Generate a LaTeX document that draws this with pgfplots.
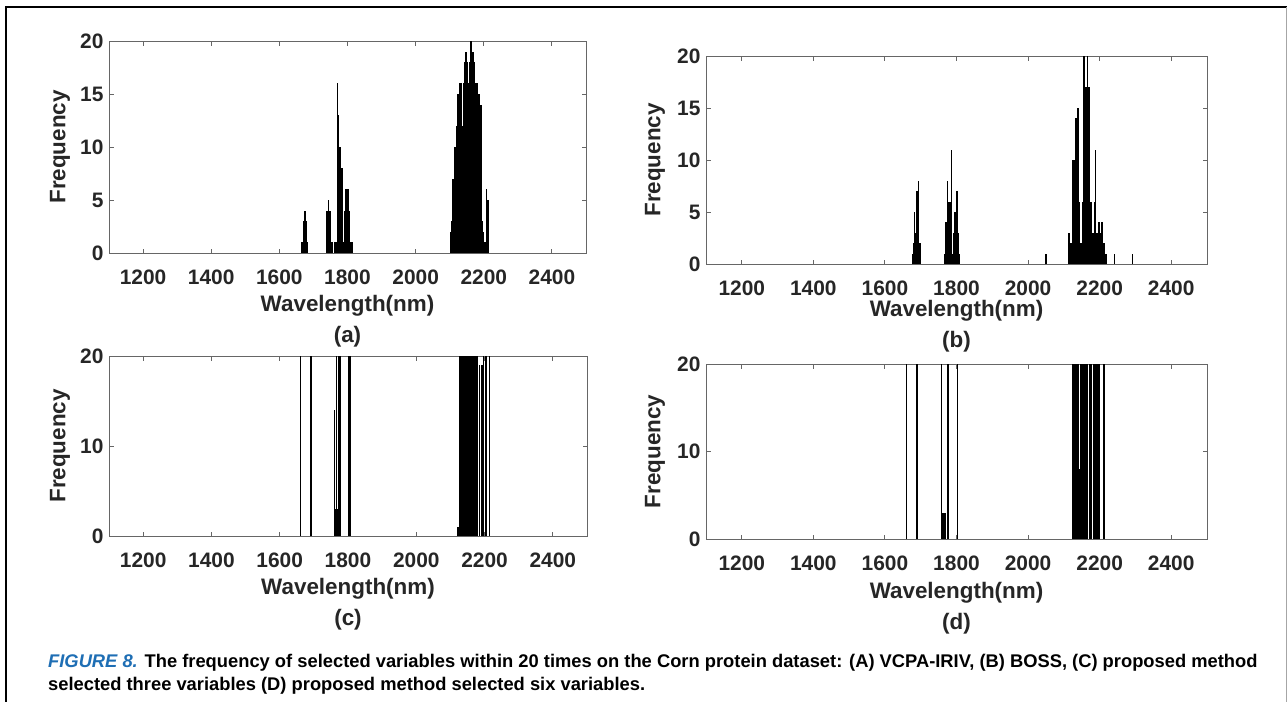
\documentclass[border=0pt]{standalone}
\usepackage{pgfplots}
\usepackage{pgfplotstable}
\pgfplotsset{compat=1.18}
\usepackage{fontspec}
\setmainfont{Liberation Sans}
\definecolor{txt}{RGB}{38,38,38}
\definecolor{capblue}{RGB}{30,110,180}

\pgfplotstableread{
x y
1666 1
1668 1
1670 1
1672 3
1674 4
1676 4
1678 3
1680 1
1682 1
1738 1
1740 4
1742 4
1744 5
1746 4
1748 4
1750 4
1752 1
1754 1
1762 1
1766 1
1768 1
1770 16
1772 13
1774 13
1776 10
1778 10
1780 8
1782 8
1784 8
1786 1
1788 1
1790 1
1792 4
1794 6
1796 4
1798 6
1800 6
1802 6
1804 4
1806 3
1808 1
1810 1
1812 1
1814 1
2104 2
2106 3
2108 7
2110 7
2112 5
2114 7
2116 10
2118 10
2120 12
2122 15
2124 15
2126 14
2128 16
2130 16
2132 15
2134 16
2136 12
2138 10
2140 16
2142 16
2144 18
2146 19
2148 16
2150 19
2152 18
2154 16
2156 16
2158 15
2160 18
2162 20
2164 19
2166 18
2168 19
2170 16
2172 18
2174 16
2176 16
2178 15
2180 16
2182 15
2184 14
2186 15
2188 12
2190 14
2192 10
2194 14
2196 3
2198 1
2200 2
2202 1
2204 1
2206 1
2208 6
2210 5
2212 5
2214 1
}\dataA

\pgfplotstableread{
x y
1678 1
1680 2
1682 5
1684 3
1686 3
1688 7
1690 7
1692 7
1694 8
1696 2
1698 2
1700 2
1766 1
1768 1
1770 4
1772 4
1774 8
1776 6
1778 6
1780 5
1782 6
1784 6
1786 11
1788 1
1790 1
1792 3
1794 3
1796 5
1798 5
1800 7
1802 7
1804 3
1806 2
1808 1
2050 1
2114 3
2116 1
2118 1
2120 2
2122 2
2124 2
2126 10
2128 10
2130 10
2132 14
2134 14
2136 14
2138 15
2140 15
2142 6
2144 6
2146 2
2148 2
2150 2
2152 6
2154 6
2156 20
2158 17
2160 17
2162 17
2164 17
2166 20
2168 17
2170 17
2172 6
2174 3
2176 6
2178 3
2180 3
2182 3
2184 3
2186 6
2188 11
2190 3
2192 3
2194 3
2196 2
2198 4
2200 2
2202 3
2204 2
2206 4
2208 2
2210 2
2212 2
2214 1
2216 1
2218 1
2242 1
2292 1
}\dataB

\pgfplotstableread{
x y
1660 20
1692 20
1760 14
1762 3
1764 3
1766 20
1768 3
1774 20
1776 20
1802 20
1806 20
2122 1
2124 1
2126 20
2128 20
2130 20
2132 20
2134 20
2136 20
2138 20
2140 20
2142 20
2144 3
2146 20
2148 20
2150 20
2152 20
2154 20
2156 20
2158 20
2160 20
2162 20
2164 20
2166 20
2168 20
2170 20
2172 1
2174 20
2176 20
2178 20
2180 20
2186 19
2192 19
2196 20
2204 20
2214 20
}\dataC

\pgfplotstableread{
x y
1660 20
1690 20
1758 20
1762 3
1764 3
1766 3
1768 3
1770 3
1774 20
1776 20
1802 20
2126 20
2128 20
2130 20
2132 20
2134 20
2136 20
2138 20
2140 20
2142 8
2144 2
2146 20
2148 20
2150 20
2152 20
2154 20
2156 20
2158 20
2160 20
2162 20
2164 20
2166 20
2172 20
2174 20
2176 20
2178 20
2182 20
2184 20
2186 20
2188 5
2190 20
2192 20
2194 20
2196 13
2198 20
2200 20
2212 20
}\dataD

\pgfplotsset{
  panel/.style={
    scale only axis,
    anchor=south west,
    clip mode=individual,
    xmin=1100, xmax=2500, ymin=0, ymax=20,
    xtick={1200,1400,...,2400},
    tick align=inside,
    major tick length=4.5bp,
    axis line style={black!60, line width=0.9bp},
    every tick/.style={black!60, line width=0.9bp},
    ticklabel style={font=\bfseries\fontsize{21}{21}\selectfont, text=txt},
    /pgf/number format/assume math mode=true,
    /pgf/number format/1000 sep={},
    label style={font=\bfseries\fontsize{22.5}{22.5}\selectfont, text=txt},
    xticklabel style={yshift=-13bp},
    yticklabel style={xshift=-2bp},
  },
  spikes/.style={ycomb, black, line width=1.4bp, no markers},
}

\begin{document}
\begin{tikzpicture}
\useasboundingbox (0bp,0bp) rectangle (1287bp,-702bp);
\draw[line width=1.5bp, black] (6bp,-702bp) -- (6bp,-7bp) -- (1287bp,-7bp);
\draw[line width=0.8bp, black!35] (1286bp,-7bp) -- (1286bp,-702bp);

% (a)
\begin{axis}[panel, at={(109bp,-253bp)}, width=477bp, height=212bp,
  ytick={0,5,10,15,20},
  xlabel={Wavelength(nm)}, ylabel={Frequency},
  xlabel style={at={(axis description cs:0.5,-0.25)}, anchor=center},
  ylabel style={at={(axis description cs:-0.103,0.5)}, anchor=center}]
\addplot[spikes] table[x=x,y=y] {\dataA};
\node[font=\bfseries\fontsize{22.5}{22.5}\selectfont, text=txt] at (axis description cs:0.5,-0.396) {(a)};
\end{axis}

% (b)
\begin{axis}[panel, at={(706bp,-264bp)}, width=501bp, height=208bp,
  ytick={0,5,10,15,20},
  xlabel={Wavelength(nm)}, ylabel={Frequency},
  xlabel style={at={(axis description cs:0.5,-0.226)}, anchor=center},
  ylabel style={at={(axis description cs:-0.102,0.5)}, anchor=center}]
\addplot[spikes] table[x=x,y=y] {\dataB};
\node[font=\bfseries\fontsize{22.5}{22.5}\selectfont, text=txt] at (axis description cs:0.5,-0.375) {(b)};
\end{axis}

% (c)
\begin{axis}[panel, at={(109bp,-536bp)}, width=478bp, height=180bp,
  ytick={0,10,20},
  xlabel={Wavelength(nm)}, ylabel={Frequency},
  xlabel style={at={(axis description cs:0.5,-0.294)}, anchor=center},
  ylabel style={at={(axis description cs:-0.1025,0.5)}, anchor=center}]
\addplot[spikes] table[x=x,y=y] {\dataC};
\node[font=\bfseries\fontsize{22.5}{22.5}\selectfont, text=txt] at (axis description cs:0.5,-0.467) {(c)};
\end{axis}

% (d)
\begin{axis}[panel, at={(706bp,-539bp)}, width=501bp, height=175bp,
  ytick={0,10,20},
  xlabel={Wavelength(nm)}, ylabel={Frequency},
  xlabel style={at={(axis description cs:0.5,-0.309)}, anchor=center},
  ylabel style={at={(axis description cs:-0.102,0.5)}, anchor=center}]
\addplot[spikes] table[x=x,y=y] {\dataD};
\node[font=\bfseries\fontsize{22.5}{22.5}\selectfont, text=txt] at (axis description cs:0.5,-0.486) {(d)};
\end{axis}

\node[anchor=base west, inner sep=0pt, font=\bfseries\fontsize{18.4}{18.4}\selectfont] at (48bp,-667bp)
  {\textcolor{capblue}{\itshape FIGURE 8.} The frequency of selected variables within 20 times on the Corn protein dataset: (A) VCPA-IRIV, (B) BOSS, (C) proposed method};
\node[anchor=base west, inner sep=0pt, font=\bfseries\fontsize{18.4}{18.4}\selectfont] at (48bp,-690bp)
  {selected three variables (D) proposed method selected six variables.};
\end{tikzpicture}
\end{document}
